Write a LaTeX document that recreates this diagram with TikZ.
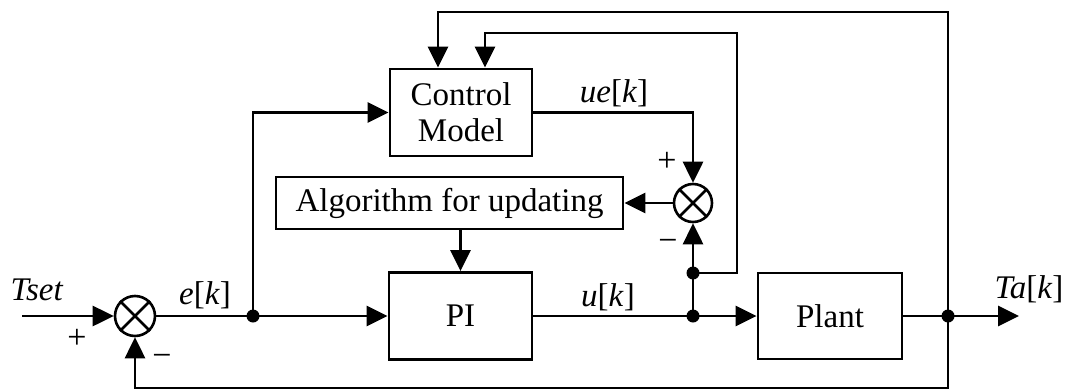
\documentclass[tikz,border=0pt]{standalone}
\usepackage{fontspec}
\setmainfont{Liberation Serif}
\usetikzlibrary{arrows.meta,calc}
\tikzset{
  blk/.style={draw, line width=2.8pt, align=center, inner sep=0pt, font=\fontsize{33}{36}\selectfont},
  sumc/.style={draw, circle, line width=2.6pt, minimum size=40pt, inner sep=0pt},
  wire/.style={line width=2.8pt},
  arr/.style={wire, -{Triangle[length=21pt,width=20pt]}},
  dotj/.style={circle, fill, minimum size=13pt, inner sep=0pt},
  lbl/.style={font=\fontsize{33}{36}\selectfont},
  sgn/.style={font=\fontsize{34}{36}\selectfont}
}
\begin{document}
\begin{tikzpicture}[x=1pt,y=-1pt]
\useasboundingbox (0,0) rectangle (1071,391);
% blocks
\node[blk, minimum width=142pt, minimum height=87pt] (cm) at (461,112.5) {Control\\Model};
\node[blk, minimum width=347pt, minimum height=52pt] (alg) at (449.5,203) {Algorithm for updating};
\node[blk, minimum width=143pt, minimum height=87pt] (pi) at (460.5,316) {PI};
\node[blk, minimum width=144pt, minimum height=86pt] (pl) at (830,316) {Plant};
% summing junctions
\node[sumc] (s1) at (135,316) {};
\draw[wire] (s1.north west) -- (s1.south east) (s1.north east) -- (s1.south west);
\node[sumc, minimum size=38pt] (s2) at (693,203) {};
\draw[wire] (s2.north west) -- (s2.south east) (s2.north east) -- (s2.south west);
% junction dots
\node[dotj] (je) at (253,316) {};
\node[dotj] (ju) at (693,316) {};
\node[dotj] (jv) at (693,273) {};
\node[dotj] (jt) at (948,316) {};
\coordinate (in) at (22,316);
\coordinate (out) at (1019,316);
% connectors
\draw[arr] (in) -- (s1.west);
\draw[wire] (s1.east) -- (je.center);
\draw[arr] (je.center) -- (pi.west);
\draw[arr] (je.center) |- (cm.west);
\draw[arr] (cm.east) -| (s2.north);
\draw[arr] (s2.west) -- (alg.east);
\draw[arr] (pi.north |- alg.south) -- (pi.north);
\draw[wire] (pi.east) -- (ju.center);
\draw[arr] (ju.center) -- (pl.west);
\draw[wire] (ju.center) -- (jv.center);
\draw[arr] (jv.center) -- (s2.south);
\draw[arr] (jv.center) -- (737,273) -- (737,33) -| ([xshift=24pt]cm.north);
\draw[wire] (pl.east) -- (jt.center);
\draw[arr] (jt.center) -- (out);
\draw[arr] (jt.center) -- (948,12) -| ([xshift=-23pt]cm.north);
\draw[arr] (jt.center) -- (948,388) -| (s1.south);
% labels
\node[lbl] (tset) at (37,290) {\textit{Tset}};
\node[lbl] (ek) at (205,295) {\textit{e}[\textit{k}]};
\node[lbl] (uk) at (608,297) {\textit{u}[\textit{k}]};
\node[lbl] (uek) at (614,93) {\textit{ue}[\textit{k}]};
\node[lbl] (tak) at (1029,289) {\textit{Ta}[\textit{k}]};
\node[sgn] (p1) at (77,339) {+};
\node[sgn] (m1) at (162,360) {\textminus};
\node[sgn] (p2) at (667,162) {+};
\node[sgn] (m2) at (668,245) {\textminus};
\end{tikzpicture}
\end{document}
